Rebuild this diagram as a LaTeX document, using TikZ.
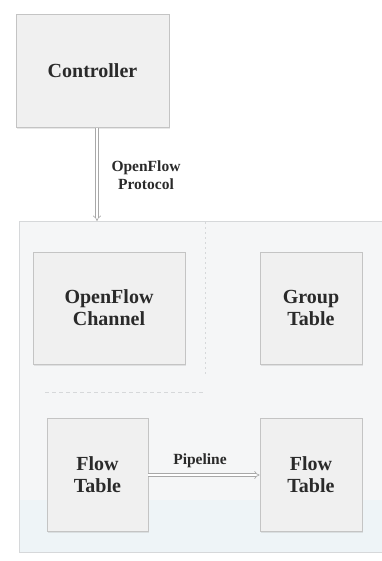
\documentclass[tikz,border=0pt]{standalone}
\usepackage{fontspec}
\setmainfont{Liberation Serif}
\usetikzlibrary{arrows.meta,shadows}
\definecolor{boxfill}{HTML}{F0F0F0}
\definecolor{boxline}{HTML}{C4C4C4}
\definecolor{outerfill}{HTML}{F5F6F7}
\definecolor{outerline}{HTML}{D6D8DA}
\definecolor{bandfill}{HTML}{EEF4F7}
\definecolor{txt}{HTML}{2A2A2A}
\definecolor{conn}{HTML}{A8A8A8}
\tikzset{
  blockbox/.style={draw=boxline, line width=0.8pt, fill=boxfill, text=txt,
    font=\fontsize{20}{22}\selectfont\bfseries, align=center, inner sep=0pt,
    drop shadow={opacity=0.18, shadow xshift=1pt, shadow yshift=-1.5pt}},
  outerbox/.style={draw=outerline, line width=0.8pt, fill=outerfill, inner sep=0pt},
  connlabel/.style={text=txt, font=\fontsize{15.5}{18}\selectfont\bfseries, align=center},
  dbl/.style={draw=conn, double=white, double distance=2.2pt, line width=0.6pt},
  sepline/.style={draw=outerline, line width=0.7pt, dashed, dash pattern=on 4pt off 3pt}
}
\begin{document}
\begin{tikzpicture}[x=1pt, y=-1pt]
  \fill[white] (0,0) rectangle (382,561);
  \useasboundingbox (0,0) rectangle (382,561);
  % outer switch box
  \node[outerbox, minimum width=364pt, minimum height=331pt, anchor=north west] (switch) at (19,221) {};
  \fill[bandfill] (19.5,500) rectangle (381.5,551.5);
  % separators
  \coordinate (vsTop) at (205,222);
  \coordinate (vsBot) at (205,375);
  \coordinate (hsL) at (45,392);
  \coordinate (hsR) at (205,392);
  \draw[sepline, dash pattern=on 2pt off 3pt] (vsTop) -- (vsBot);
  \draw[sepline] (hsL) -- (hsR);
  % blocks
  \node[blockbox, minimum width=153pt, minimum height=113pt] (ctrl) at (92.5,71) {Controller};
  \node[blockbox, minimum width=152pt, minimum height=112pt] (chan) at (109,308) {OpenFlow\\Channel};
  \node[blockbox, minimum width=102pt, minimum height=112pt] (group) at (311,308) {Group\\Table};
  \node[blockbox, minimum width=101pt, minimum height=113pt] (flowA) at (97.5,474.5) {Flow\\Table};
  \node[blockbox, minimum width=102pt, minimum height=113pt] (flowB) at (311,474.5) {Flow\\Table};
  % connectors
  \coordinate (swtop) at (97,221);
  \draw[dbl, -{Implies[length=3pt]}] (ctrl.south -| swtop) -- (swtop);
  \node[connlabel] (proto) at (146,175.5) {OpenFlow\\Protocol};
  \coordinate (pipeA) at (148,475);
  \draw[dbl, -{Implies[length=3pt]}] (flowA.east |- pipeA) -- (flowB.west |- pipeA);
  \node[connlabel] (pipe) at (200,461) {Pipeline};
\end{tikzpicture}
\end{document}
